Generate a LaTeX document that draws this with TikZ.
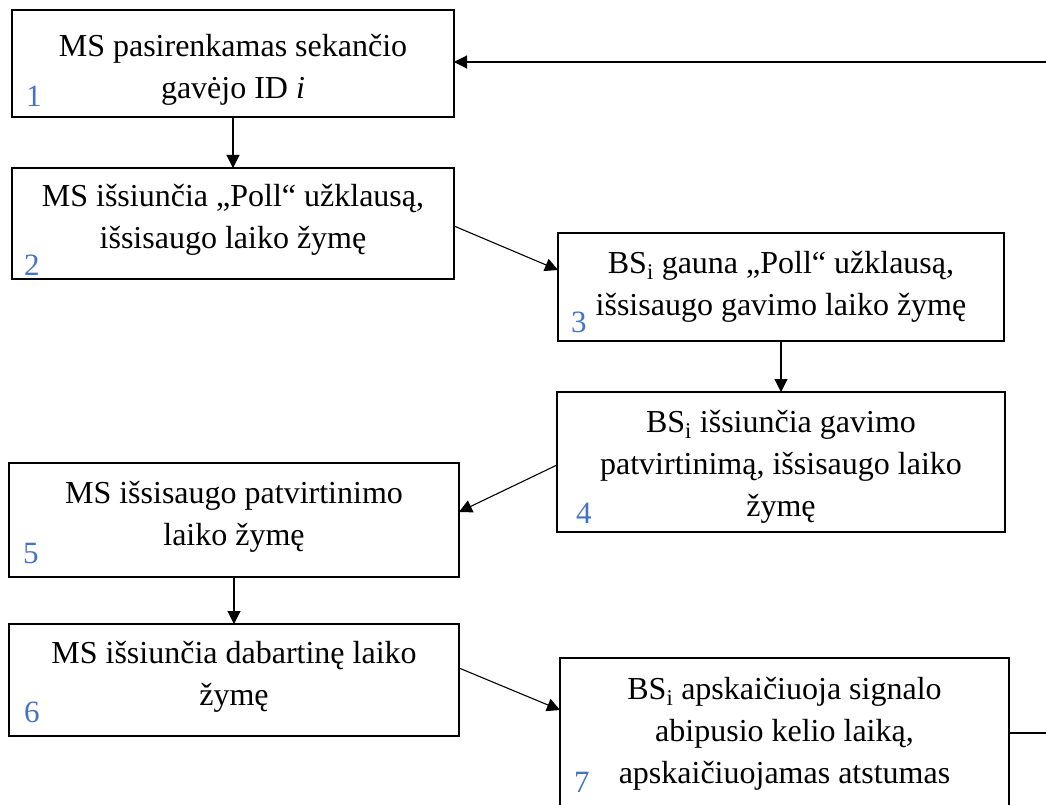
\documentclass[tikz,border=0pt]{standalone}
\usepackage{fontspec}
\setmainfont{Liberation Serif}
\usetikzlibrary{arrows.meta}
\definecolor{stepblue}{RGB}{68,114,196}
\begin{document}
\begin{tikzpicture}[x=1pt,y=-1pt,
  stepbox/.style={draw=black, line width=1.8pt, inner sep=0pt, outer sep=0pt},
  flow/.style={draw=black, line width=1.1pt, -{Triangle[length=13pt,width=13pt]}},
  steptext/.style={anchor=north, align=center, inner sep=0pt,
    font=\fontsize{32}{42}\selectfont},
  stepno/.style={anchor=base west, inner sep=0pt, text=stepblue,
    font=\fontsize{31}{31}\selectfont}]
\useasboundingbox (0,0) rectangle (1046,805);
\clip (0,0) rectangle (1046,805);

% step boxes
\node[stepbox, minimum width=442pt, minimum height=107pt] (b1) at (233,63.5) {};
\node[stepbox, minimum width=442pt, minimum height=111pt] (b2) at (233,223.5) {};
\node[stepbox, minimum width=446pt, minimum height=108pt] (b3) at (781,287) {};
\node[stepbox, minimum width=448pt, minimum height=140pt] (b4) at (781,462) {};
\node[stepbox, minimum width=450pt, minimum height=114pt] (b5) at (234,520) {};
\node[stepbox, minimum width=450pt, minimum height=112pt] (b6) at (234,680) {};
\node[stepbox, minimum width=449pt, minimum height=192pt] (b7) at (784.5,754) {};

% box texts
\node[steptext] (t1) at (233,26.6) {\strut MS pasirenkamas sekančio\\gavėjo ID \textit{i}};
\node[steptext] (t2) at (233,176.6) {\strut MS išsiunčia „Poll“ užklausą,\\išsisaugo laiko žymę};
\node[steptext] (t3) at (781,243.6) {\strut BS\textsubscript{i} gauna „Poll“ užklausą,\\išsisaugo gavimo laiko žymę};
\node[steptext] (t4) at (781,402.6) {\strut BS\textsubscript{i} išsiunčia gavimo\\patvirtinimą, išsisaugo laiko\\žymę};
\node[steptext] (t5) at (234,473.6) {\strut MS išsisaugo patvirtinimo\\laiko žymę};
\node[steptext] (t6) at (234,633.6) {\strut MS išsiunčia dabartinę laiko\\žymę};
\node[steptext] (t7) at (784.5,669.6) {\strut BS\textsubscript{i} apskaičiuoja signalo\\abipusio kelio laiką,\\apskaičiuojamas atstumas};

% step numbers
\node[stepno] (n1) at (26,107) {1};
\node[stepno] (n2) at (24,275) {2};
\node[stepno] (n3) at (571,332) {3};
\node[stepno] (n4) at (576,523) {4};
\node[stepno] (n5) at (23,563) {5};
\node[stepno] (n6) at (24,722) {6};
\node[stepno] (n7) at (574,792) {7};

% connectors
\draw[flow] (b1.south) -- (b2.north);
\draw[flow] (b2.east |- 0,226) -- (b3.west |- 0,270);
\draw[flow] (b3.south) -- (b4.north);
\draw[flow] (b4.west |- 0,465) -- (b5.east |- 0,512);
\draw[flow] (b5.south) -- (b6.north);
\draw[flow] (b6.east |- 0,668) -- (b7.west |- 0,710);

% return loop back to the first step
\coordinate (loopbot) at (1090,733);
\coordinate (looptop) at (1090,62);
\draw[flow] (b7.east |- loopbot) -- (loopbot) -- (looptop) -- (b1.east |- looptop);
\end{tikzpicture}
\end{document}
